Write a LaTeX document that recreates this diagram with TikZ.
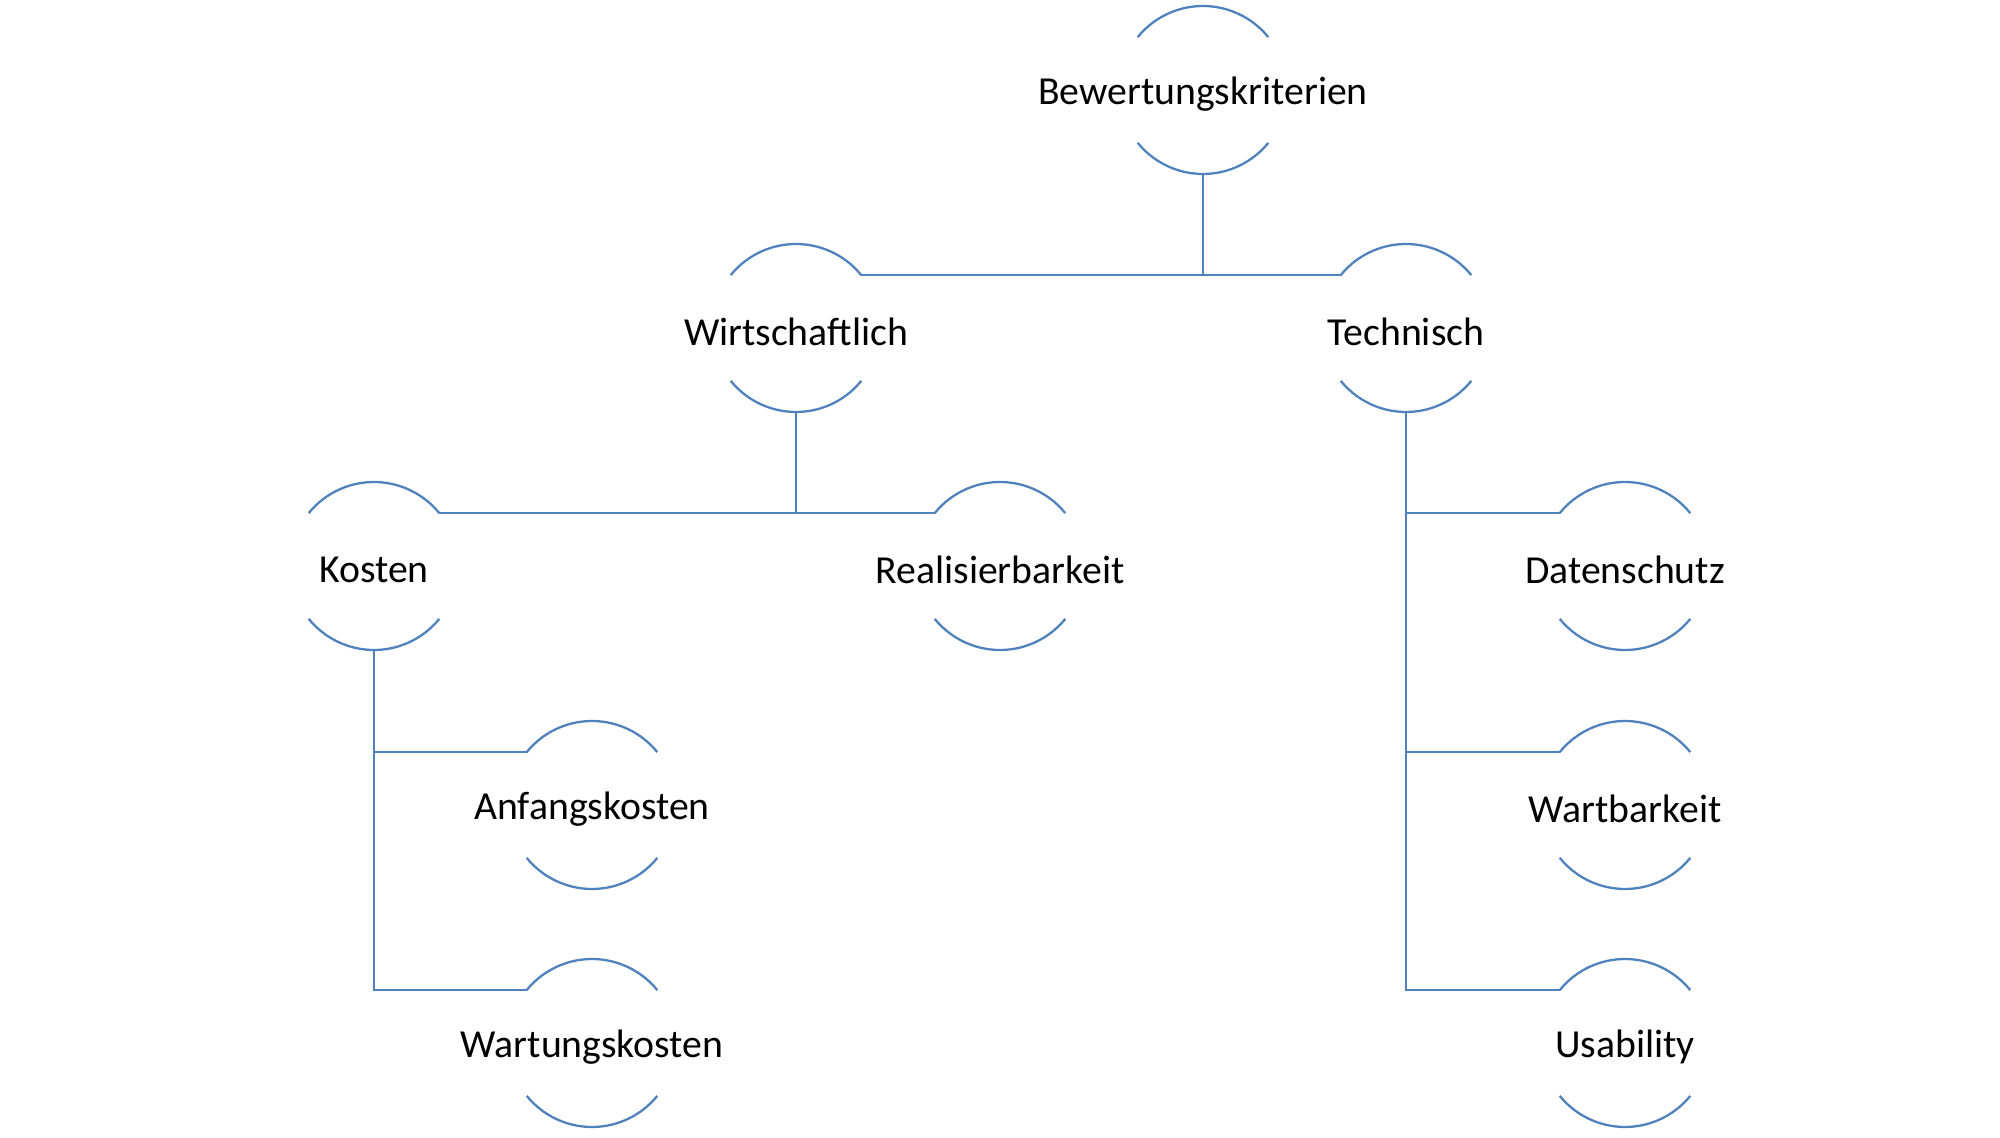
\documentclass[tikz,border=0pt]{standalone}
\usepackage{fontspec}
\setmainfont{Carlito}
\definecolor{arcblue}{RGB}{79,129,189}

\begin{document}
\begin{tikzpicture}[font=\fontsize{11.3}{13.5}\selectfont, every label/.style={yshift=-0.4mm}]
   \tikzstyle{crit}=[circle, minimum size=1.68cm, inner sep=0pt, outer sep=0pt]
   \tikzstyle{link}=[draw=arcblue, line width=0.65pt]
   \useasboundingbox (0,0) rectangle (20,11.37);

\node[crit, label=center:Bewertungskriterien] (bew) at (12.03,10.47) {};
\node[crit, label=center:Wirtschaftlich] (wir) at (7.96,8.09) {};
\node[crit, label=center:Technisch] (tec) at (14.06,8.09) {};
\node[crit, label=center:Kosten] (kos) at (3.74,5.71) {};
\node[crit, label=center:Realisierbarkeit] (rea) at (10.00,5.71) {};
\node[crit, label=center:Datenschutz] (dat) at (16.25,5.71) {};
\node[crit, label=center:Anfangskosten] (anf) at (5.92,3.32) {};
\node[crit, label=center:Wartbarkeit] (wbk) at (16.25,3.32) {};
\node[crit, label=center:Wartungskosten] (wtk) at (5.92,0.94) {};
\node[crit, label=center:Usability] (usa) at (16.25,0.94) {};

% upper and lower arcs of each circle
\foreach \n in {bew,wir,tec,kos,rea,dat,anf,wbk,wtk,usa}{
   \draw[link] (\n.39) arc (39:141:0.84cm);
   \draw[link] (\n.219) arc (219:321:0.84cm);
}

% connectors
\draw[link] (bew.south) -- (bew.south |- wir.39);
\draw[link] (wir.39) -- (tec.141);
\draw[link] (wir.south) -- (wir.south |- kos.39);
\draw[link] (kos.39) -- (rea.141);
\draw[link] (kos.south) |- (anf.141);
\draw[link] (kos.south) |- (wtk.141);
\draw[link] (tec.south) |- (dat.141);
\draw[link] (tec.south) |- (wbk.141);
\draw[link] (tec.south) |- (usa.141);

\end{tikzpicture}
\end{document}
